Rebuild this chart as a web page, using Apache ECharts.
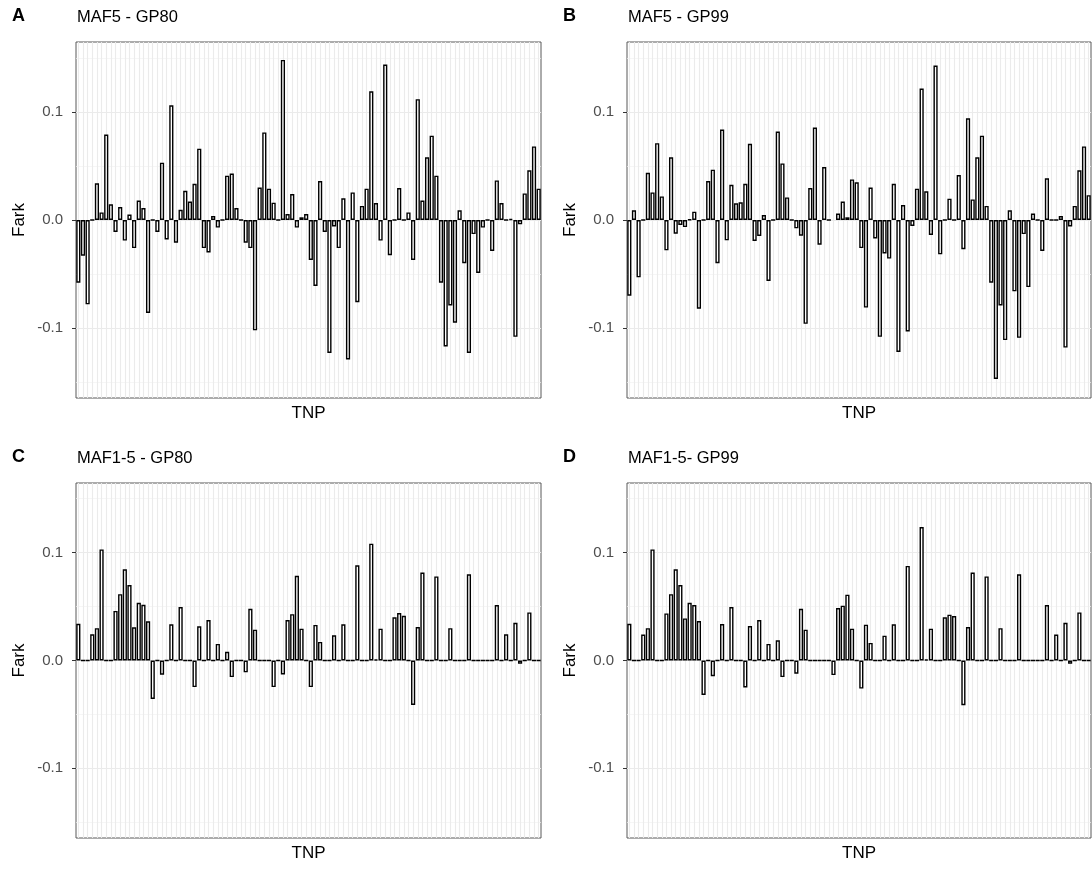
<!DOCTYPE html>
<html>
<head>
<meta charset="utf-8">
<script src="https://cdn.jsdelivr.net/npm/echarts@6/dist/echarts.min.js"></script>
<style>
html,body{margin:0;padding:0;background:#fff;}
#chart{width:1092px;height:873px;}
</style>
</head>
<body>
<div id="chart"></div>
<script>
// ---- data ----
const panelTags = ['A', 'B', 'C', 'D'];
const panelTitles = ['MAF5 - GP80', 'MAF5 - GP99', 'MAF1-5 - GP80', 'MAF1-5- GP99'];
const yTickValues = [-0.1, 0, 0.1];
const yMinorValues = [-0.15, -0.05, 0.05, 0.15];
const tnpCount = 100;

const mafA = [-0.058,-0.033,-0.078,0,0.034,0.007,0.079,0.0145,-0.011,0.012,
-0.019,0.005,-0.026,0.018,0.011,-0.086,0,-0.011,0.053,-0.018,
0.106,-0.021,0.0095,0.027,0.017,0.0335,0.066,-0.026,-0.030,0.0037,
-0.007,0,0.041,0.043,0.011,0,-0.021,-0.026,-0.102,0.030,
0.081,0.029,0.016,0,0.148,0.0055,0.024,-0.007,0.0025,0.0055,
-0.037,-0.061,0.036,-0.011,-0.123,-0.006,-0.026,0.020,-0.129,0.0255,
-0.076,0.013,0.029,0.119,0.0157,-0.019,0.1437,-0.0326,0,0.0295,
0,0.007,-0.037,0.1117,0.018,0.058,0.078,0.041,-0.058,-0.117,
-0.079,-0.095,0.009,-0.040,-0.123,-0.013,-0.049,-0.007,0,-0.0286,
0.0366,0.0157,0,0.001,-0.108,-0.004,0.0246,0.046,0.068,0.029];

const mafB = [-0.070,0.009,-0.053,0,0.0437,0.0255,0.071,0.0218,-0.028,0.058,
-0.0126,-0.0046,-0.0065,0.0006,0.0077,-0.082,0,0.036,0.0465,-0.040,
0.0837,-0.0188,0.0326,0.0154,0.0163,0.0335,0.0705,-0.0194,-0.0148,0.0046,
-0.0563,0,0.0818,0.0523,0.0209,0,-0.0077,-0.0145,-0.096,0.0295,
0.0855,-0.0228,0.049,0,null,0.006,0.017,0.0025,0.0375,0.0348,
-0.026,-0.081,0.030,-0.017,-0.108,-0.031,-0.0357,0.0335,-0.122,0.0138,
-0.103,-0.0055,0.029,0.1215,0.0265,-0.0138,0.1428,-0.0317,0,0.0197,
0,0.0415,-0.027,0.094,0.019,0.058,0.078,0.013,-0.058,-0.147,
-0.079,-0.111,0.009,-0.066,-0.109,-0.013,-0.062,0.006,0,-0.0286,
0.0385,0,0,0.0037,-0.118,-0.006,0.013,0.046,0.068,0.023];

const mafC = [0.034,0,0,0.0243,0.030,0.103,0,0,0.046,0.0615,
0.0846,0.070,0.0308,0.0535,0.0517,0.0363,-0.0357,0,-0.0132,0,
0.0335,0,0.0495,0,0,-0.0246,0.0317,0,0.0375,0,
0.0154,0,0.008,-0.0154,0,0,-0.011,0.048,0.0286,0,
0,0,-0.0246,0,-0.013,0.0375,0.043,0.0785,0.0295,0,
-0.0246,0.033,0.0172,0,0,0.0234,0,0.0335,0,0,
0.0883,0,0,0.1083,0.001,0.0295,0,0,0.040,0.044,
0.0415,0,-0.0412,0.031,0.0815,0,0,0.078,0,0,
0.030,0,0,0,0.080,0,0,0,0,0,
0.0514,0,0.0243,0,0.035,-0.003,0,0.0446,0,0];

const mafD = [0.034,0,0,0.024,0.030,0.103,0,0,0.0437,0.0615,
0.0846,0.070,0.039,0.0535,0.0514,0.0366,-0.032,0,-0.0145,0,
0.0338,0,0.0495,0,0,-0.025,0.032,0,0.0375,0,
0.0154,0,0.0188,-0.0154,0,0,-0.0123,0.048,0.0286,0,
0,0,0,0,-0.0135,0.0486,0.0508,0.061,0.0295,0,
-0.026,0.0332,0.0163,0,0,0.023,0,0.0335,0,0,
0.0877,0,0,0.1237,0.001,0.0295,0,0,0.040,0.0425,
0.0412,0,-0.0415,0.031,0.0815,0,0,0.078,0,0,
0.030,0,0,0,0.080,0,0,0,0,0,
0.0514,0,0.024,0,0.035,-0.003,0,0.0446,0,0];

const panelValues = [mafA, mafB, mafC, mafD];

// ---- layout ----
const FONT = 'Liberation Sans, Arial, sans-serif';
const grids = [
  {left: 76, top: 42, width: 465, height: 356},
  {left: 627, top: 42, width: 464, height: 356},
  {left: 76, top: 483, width: 465, height: 355},
  {left: 627, top: 483, width: 464, height: 355}
];
const tnpCategories = [];
for (let i = 1; i <= tnpCount; i++) tnpCategories.push('TNP' + i);

const option = {
  animation: false,
  backgroundColor: '#ffffff',
  title: [],
  grid: [],
  xAxis: [],
  yAxis: [],
  series: []
};

grids.forEach((g, i) => {
  option.grid.push(Object.assign({
    show: true, backgroundColor: '#ffffff', borderColor: '#595959', borderWidth: 1,
    containLabel: false
  }, g));
  option.title.push({
    text: panelTags[i], left: g.left - 64, top: g.top - 35, padding: 0,
    textStyle: {fontFamily: FONT, fontSize: 18, fontWeight: 'bold', color: '#000'}
  });
  option.title.push({
    text: panelTitles[i], left: g.left + 1, top: g.top - 33, padding: 0,
    textStyle: {fontFamily: FONT, fontSize: 16.5, fontWeight: 'normal', color: '#000'}
  });
  option.xAxis.push({
    type: 'category', gridIndex: i, data: tnpCategories, boundaryGap: true,
    name: 'TNP', nameLocation: 'middle', nameGap: 7,
    nameTextStyle: {fontFamily: FONT, fontSize: 17, color: '#000', verticalAlign: 'top'},
    axisLine: {show: false},
    axisTick: {show: true, alignWithLabel: true, interval: 0, length: 3, lineStyle: {color: '#333', width: 1}},
    axisLabel: {show: false, interval: 0},
    splitLine: {show: false}
  });
  option.yAxis.push({
    type: 'value', gridIndex: i, min: -0.1646, max: 0.1646,
    name: 'Fark', nameLocation: 'middle', nameGap: 48, nameRotate: 90,
    nameTextStyle: {fontFamily: FONT, fontSize: 17, color: '#000'},
    axisLine: {show: false},
    axisTick: {show: true, customValues: yTickValues, length: 4, lineStyle: {color: '#333', width: 1}},
    axisLabel: {show: true, customValues: yTickValues, margin: 13, color: '#4d4d4d',
      fontFamily: FONT, fontSize: 15, formatter: v => v.toFixed(1)},
    splitLine: {show: false}
  });
  const vals = panelValues[i];
  const data = vals.map(v => (v === null ? '-' : v));
  const gridLines = [];
  yMinorValues.forEach(v => gridLines.push({yAxis: v, lineStyle: {color: '#f2f2f2', width: 0.7, type: 'solid'}}));
  yTickValues.forEach(v => gridLines.push({yAxis: v, lineStyle: {color: '#ebebeb', width: 1.1, type: 'solid'}}));
  tnpCategories.forEach((c, k) => gridLines.push({xAxis: k, lineStyle: {color: '#ebebeb', width: 1.1, type: 'solid'}}));
  option.series.push({
    type: 'bar', xAxisIndex: i, yAxisIndex: i,
    data: data, barWidth: '90%',
    itemStyle: {color: '#ffffff', borderColor: '#000000', borderWidth: 1.4},
    emphasis: {disabled: true},
    silent: true,
    z: 2,
    markLine: {
      silent: true, z: 1, symbol: ['none', 'none'], label: {show: false},
      animation: false, data: gridLines
    }
  });
});

const chart = echarts.init(document.getElementById('chart'), null, {renderer: 'canvas'});
chart.setOption(option);
</script>
</body>
</html>
